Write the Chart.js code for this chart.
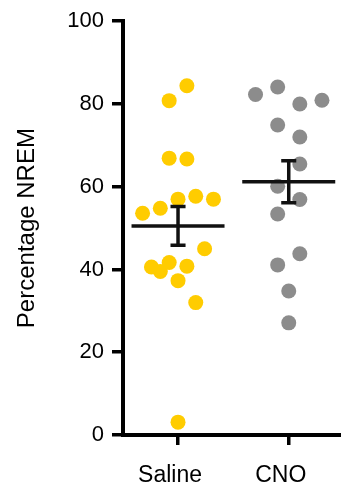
<!DOCTYPE html>
<html>
<head>
<meta charset="utf-8">
<script src="https://cdn.jsdelivr.net/npm/chart.js@4/dist/chart.umd.min.js"></script>
<style>
html,body{margin:0;padding:0;background:#fff;}
canvas{display:block;}
</style>
</head>
<body>
<canvas id="c" width="341" height="493"></canvas>
<script>
// ---- data ----
const categories = ["Saline", "CNO"];
const salineValues = [84.4, 80.8, 66.9, 66.7, 57.0, 57.7, 57.0, 54.8, 53.6, 45.0, 40.6, 39.5, 41.7, 40.8, 37.3, 32.0, 3.1];
const salineJitter = [0.08, -0.08, -0.08, 0.08, 0, 0.16, 0.32, -0.16, -0.32, 0.24, -0.24, -0.16, -0.08, 0.08, 0, 0.16, 0];
const cnoValues = [82.3, 84.1, 80.0, 80.9, 74.9, 72.0, 65.5, 60.1, 56.9, 53.4, 43.8, 41.1, 34.8, 27.1];
const cnoJitter = [-0.30, -0.10, 0.10, 0.30, -0.10, 0.10, 0.10, -0.10, 0.10, -0.10, 0.10, -0.10, 0, 0];
const yTicks = [0, 20, 40, 60, 80, 100];

// ---- helpers ----
function mean(a){ return a.reduce((s,v)=>s+v,0)/a.length; }
function sem(a){ const m=mean(a); const v=a.reduce((s,x)=>s+(x-m)*(x-m),0)/(a.length-1); return Math.sqrt(v)/Math.sqrt(a.length); }

const groups = [
  {values: salineValues, jitter: salineJitter, color: "#FFCC00", pos: 1},
  {values: cnoValues, jitter: cnoJitter, color: "#8C8C8C", pos: 2}
];

const MEAN_HALF = 0.42, CAP_HALF = 0.068;
const barDatasets = [];
const pointDatasets = [];
groups.forEach(g => {
  const m = mean(g.values), s = sem(g.values);
  const lineStyle = {type:'line', showLine:true, borderColor:'#111', borderWidth:3.5, pointRadius:0, pointHoverRadius:0, fill:false, borderCapStyle:'butt'};
  barDatasets.push(Object.assign({data:[{x:g.pos-MEAN_HALF,y:m},{x:g.pos+MEAN_HALF,y:m}]}, lineStyle));
  barDatasets.push(Object.assign({data:[{x:g.pos,y:m-s},{x:g.pos,y:m+s}]}, lineStyle));
  barDatasets.push(Object.assign({data:[{x:g.pos-CAP_HALF,y:m+s},{x:g.pos+CAP_HALF,y:m+s}]}, lineStyle));
  barDatasets.push(Object.assign({data:[{x:g.pos-CAP_HALF,y:m-s},{x:g.pos+CAP_HALF,y:m-s}]}, lineStyle));
  pointDatasets.push({
    type:'scatter',
    data: g.values.map((v,i)=>({x:g.pos+g.jitter[i], y:v})),
    backgroundColor: g.color, borderWidth:0,
    pointRadius:7.5, pointHoverRadius:7.5
  });
});

const FONT = "'Liberation Sans', Arial, Helvetica, sans-serif";

new Chart(document.getElementById('c'), {
  type: 'scatter',
  data: { datasets: barDatasets.concat(pointDatasets) },
  options: {
    responsive:false, animation:false,
    layout:{ autoPadding:false, padding:{ top:19, right:0, left:0, bottom:0 } },
    plugins:{ legend:{display:false}, tooltip:{enabled:false} },
    scales:{
      x:{
        type:'linear', min:0.503, max:2.472,
        border:{display:true, color:'#000', width:4},
        grid:{drawOnChartArea:false, drawTicks:true, tickLength:10, color:'#000', lineWidth:3.5},
        afterBuildTicks: sc => { sc.ticks = categories.map((c,i)=>({value:i+1})); },
        afterFit: sc => { sc.height = 58; },
        ticks:{
          color:'#000', font:{family:FONT, size:23}, padding:17, labelOffset:-8, maxRotation:0,
          callback: v => categories[v-1]
        }
      },
      y:{
        type:'linear', min:0, max:100,
        border:{display:true, color:'#000', width:4},
        grid:{drawOnChartArea:false, drawTicks:true, tickLength:11, color:'#000', lineWidth:3.5},
        afterBuildTicks: sc => { sc.ticks = yTicks.map(v=>({value:v})); },
        afterFit: sc => { sc.width = 123; },
        ticks:{ color:'#000', font:{family:FONT, size:22}, padding:8 },
        title:{ display:true, text:'Percentage NREM', color:'#000', font:{family:FONT, size:24}, padding:{top:13,bottom:0} }
      }
    }
  }
});
</script>
</body>
</html>
